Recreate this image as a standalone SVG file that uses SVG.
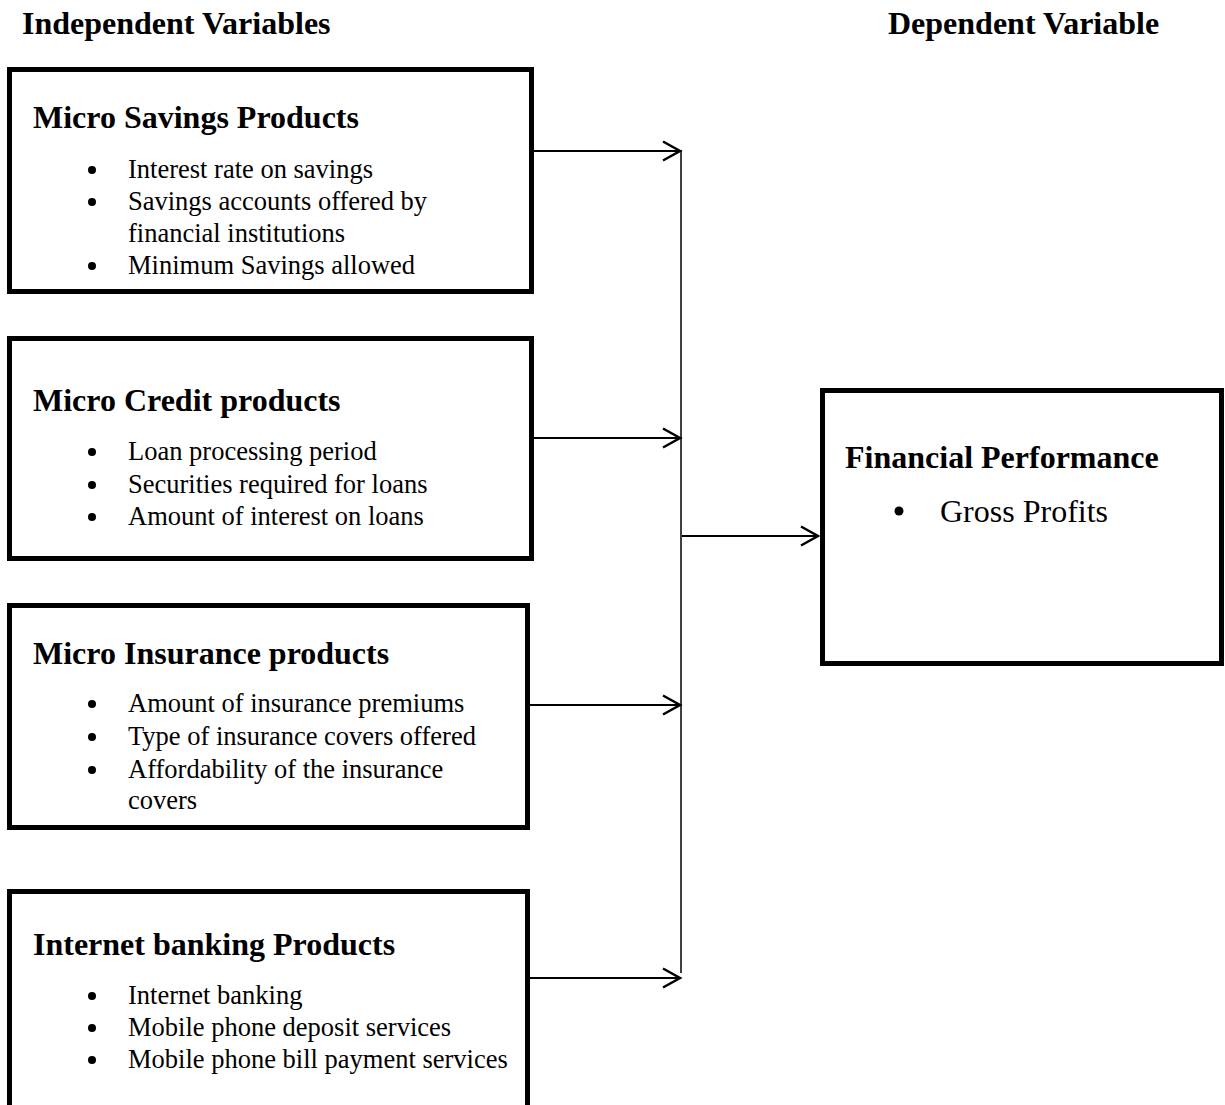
<svg xmlns="http://www.w3.org/2000/svg" width="1225" height="1105" viewBox="0 0 1225 1105">
<style>
.box{fill:#fff;stroke:#000;stroke-width:5}
.hdr{font-family:"Liberation Serif","Times New Roman",serif;font-weight:bold;font-size:32px;fill:#000}
.ttl{font-family:"Liberation Serif","Times New Roman",serif;font-weight:bold;font-size:32px;fill:#000}
.itm{font-family:"Liberation Serif","Times New Roman",serif;font-size:26.5px;fill:#000}
.big{font-family:"Liberation Serif","Times New Roman",serif;font-size:32px;fill:#000}
.dot{fill:#000}
.con{stroke:#000;stroke-width:2;fill:none}
.vline{stroke:#000;stroke-width:1.5;fill:none}
</style>
<defs>
<marker id="arr" markerUnits="userSpaceOnUse" markerWidth="24" markerHeight="24" refX="20" refY="12" orient="auto">
<path d="M3,2.5 L20,12 L3,21.5" fill="none" stroke="#000" stroke-width="2.5"/>
</marker>
</defs>
<text class="hdr" x="22" y="34">Independent Variables</text>
<text class="hdr" x="888" y="34">Dependent Variable</text>

<g id="connectors">
<line class="vline" x1="681" y1="150" x2="681" y2="973"/>
<line class="con" x1="534" y1="151" x2="680" y2="151" marker-end="url(#arr)"/>
<line class="con" x1="528" y1="438" x2="680" y2="438" marker-end="url(#arr)"/>
<line class="con" x1="530" y1="705" x2="680" y2="705" marker-end="url(#arr)"/>
<line class="con" x1="530" y1="978" x2="680" y2="978" marker-end="url(#arr)"/>
<line class="con" x1="682" y1="536" x2="818" y2="536" marker-end="url(#arr)"/>
</g>

<g id="node-savings">
<rect class="box" x="9.5" y="69.5" width="522" height="222"/>
<text class="ttl" x="33" y="128">Micro Savings Products</text>
<circle class="dot" cx="92" cy="170" r="4"/>
<text class="itm" x="128" y="178">Interest rate on savings</text>
<circle class="dot" cx="92" cy="202" r="4"/>
<text class="itm" x="128" y="210">Savings accounts offered by</text>
<text class="itm" x="128" y="242">financial institutions</text>
<circle class="dot" cx="92" cy="266" r="4"/>
<text class="itm" x="128" y="274">Minimum Savings allowed</text>
</g>

<g id="node-credit">
<rect class="box" x="9.5" y="338.5" width="522" height="220"/>
<text class="ttl" x="33" y="411">Micro Credit products</text>
<circle class="dot" cx="92" cy="452" r="4"/>
<text class="itm" x="128" y="460">Loan processing period</text>
<circle class="dot" cx="92" cy="485" r="4"/>
<text class="itm" x="128" y="493">Securities required for loans</text>
<circle class="dot" cx="92" cy="517" r="4"/>
<text class="itm" x="128" y="525">Amount of interest on loans</text>
</g>

<g id="node-insurance">
<rect class="box" x="9.5" y="605.5" width="518" height="222"/>
<text class="ttl" x="33" y="664">Micro Insurance products</text>
<circle class="dot" cx="92" cy="704" r="4"/>
<text class="itm" x="128" y="712">Amount of insurance premiums</text>
<circle class="dot" cx="92" cy="737" r="4"/>
<text class="itm" x="128" y="745">Type of insurance covers offered</text>
<circle class="dot" cx="92" cy="770" r="4"/>
<text class="itm" x="128" y="778">Affordability of the insurance</text>
<text class="itm" x="128" y="809">covers</text>
</g>

<g id="node-internet">
<rect class="box" x="9.5" y="891.5" width="518" height="240"/>
<text class="ttl" x="33" y="955">Internet banking Products</text>
<circle class="dot" cx="92" cy="996" r="4"/>
<text class="itm" x="128" y="1004">Internet banking</text>
<circle class="dot" cx="92" cy="1028" r="4"/>
<text class="itm" x="128" y="1036">Mobile phone deposit services</text>
<circle class="dot" cx="92" cy="1060" r="4"/>
<text class="itm" x="128" y="1068">Mobile phone bill payment services</text>
</g>

<g id="node-performance">
<rect class="box" x="822.5" y="390.5" width="399" height="273"/>
<text class="ttl" x="845" y="468">Financial Performance</text>
<circle class="dot" cx="899" cy="511" r="4.5"/>
<text class="big" x="940" y="522">Gross Profits</text>
</g>
</svg>
